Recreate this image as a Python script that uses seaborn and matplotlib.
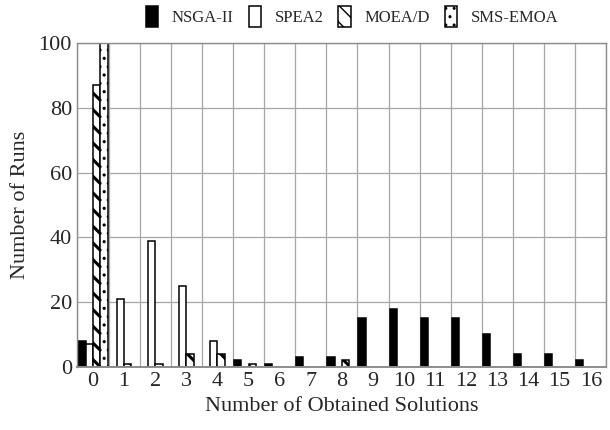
import matplotlib
matplotlib.use("Agg")
import matplotlib.pyplot as plt
import numpy as np
import pandas as pd
import seaborn as sns

# Number of obtained solutions per run, counted over 100 runs for each algorithm
solutions = list(range(17))
algorithms = ["NSGA-II", "SPEA2", "MOEA/D", "SMS-EMOA"]
nsga2 = [8, 0, 0, 0, 0, 2, 1, 3, 3, 15, 18, 15, 15, 10, 4, 4, 2]
spea2 = [7, 21, 39, 25, 8, 0, 0, 0, 0, 0, 0, 0, 0, 0, 0, 0, 0]
moead = [87, 1, 1, 4, 4, 1, 0, 0, 2, 0, 0, 0, 0, 0, 0, 0, 0]
smsemoa = [100, 0, 0, 0, 0, 0, 0, 0, 0, 0, 0, 0, 0, 0, 0, 0, 0]
y_ticks = [0, 20, 40, 60, 80, 100]

df = pd.DataFrame({
    "solutions": np.tile(solutions, len(algorithms)),
    "algorithm": np.repeat(algorithms, len(solutions)),
    "runs": nsga2 + spea2 + moead + smsemoa,
})

sns.set_style("white")
plt.rcParams["font.family"] = ["Liberation Serif", "DejaVu Serif"]
plt.rcParams["hatch.color"] = "black"

fig = plt.figure(figsize=(6.1, 4.3), dpi=100)
ax = fig.add_axes([0.127, 0.147, 0.867, 0.753])

sns.barplot(data=df, x="solutions", y="runs", hue="algorithm",
            hue_order=algorithms, order=solutions, width=0.94, gap=0,
            dodge=True, ax=ax, legend=False, errorbar=None)

styles = {
    "NSGA-II": dict(facecolor="black", hatch=None, hlw=1.0),
    "SPEA2": dict(facecolor="white", hatch=None, hlw=1.0),
    "MOEA/D": dict(facecolor="white", hatch="\\\\", hlw=2.2),
    "SMS-EMOA": dict(facecolor="white", hatch="..", hlw=1.1),
}


def style_patch(p, st):
    p.set_facecolor(st["facecolor"])
    p.set_edgecolor("black")
    p.set_linewidth(1.1)
    if st["hatch"]:
        p.set_hatch(st["hatch"])
        if hasattr(p, "set_hatch_linewidth"):
            p.set_hatch_linewidth(st["hlw"])
        else:
            p._hatch_linewidth = st["hlw"]


handles = []
for name, cont in zip(algorithms, ax.containers):
    st = styles[name]
    for bar in cont:
        style_patch(bar, st)
        if bar.get_height() == 0:
            bar.set_visible(False)
    h = plt.Rectangle((0, 0), 1, 1)
    style_patch(h, st)
    handles.append(h)

ax.set_xlim(-0.5, 16.5)
ax.set_ylim(0, 100)
ax.set_yticks(y_ticks)
ax.set_xticks(solutions)
ax.set_xticks(np.arange(-0.5, 16.6, 1.0), minor=True)
ax.grid(False)
ax.grid(axis="x", which="minor", color="#a6a6a6", linewidth=0.9)
ax.grid(axis="y", which="major", color="#a6a6a6", linewidth=0.9)
ax.set_axisbelow(True)
ax.tick_params(which="both", length=0, labelsize=16, pad=4)
for sp in ax.spines.values():
    sp.set_color("#8c8c8c")
    sp.set_linewidth(1.0)
ax.spines["bottom"].set_linewidth(1.4)

ax.set_xlabel("Number of Obtained Solutions", fontsize=16, labelpad=4)
ax.set_ylabel("Number of Runs", fontsize=16, labelpad=6)

fig.legend(handles, algorithms, ncol=4, frameon=False, fontsize=12,
           loc="center", bbox_to_anchor=(0.577, 0.962),
           handlelength=0.75, handleheight=1.5, handletextpad=0.8,
           columnspacing=0.9, borderaxespad=0)

fig.savefig("out.png", dpi=100)
